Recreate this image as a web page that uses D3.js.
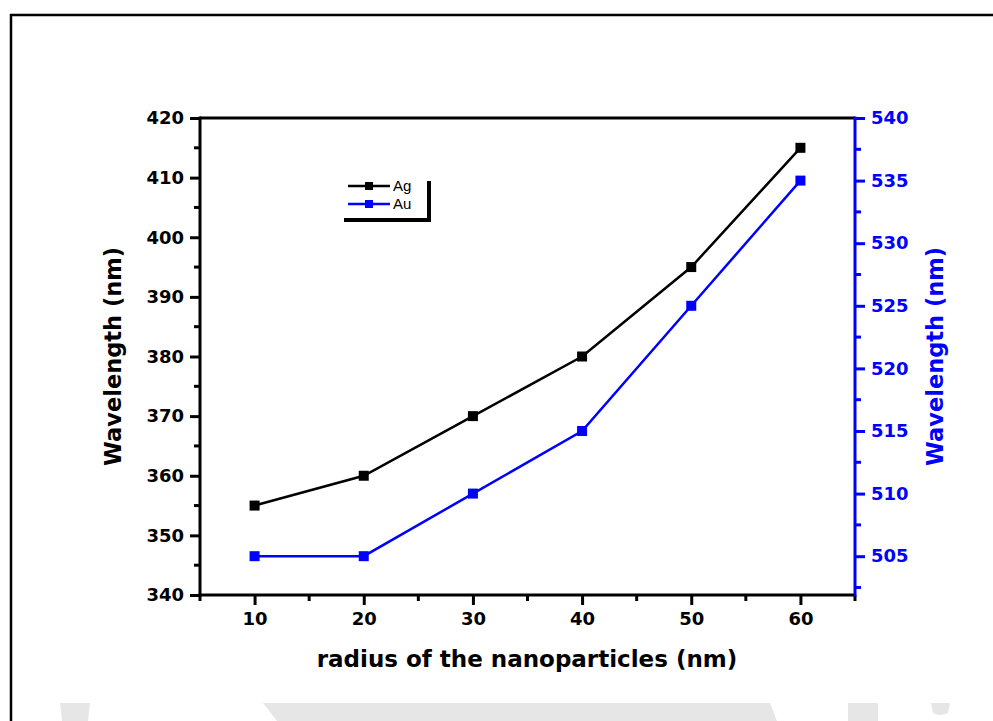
<!DOCTYPE html>
<html><head><meta charset="utf-8">
<script src="https://cdn.jsdelivr.net/npm/d3@7"></script>
<style>body{margin:0;background:#fff;}svg{display:block;font-family:"DejaVu Sans",Arial,sans-serif;}</style>
</head><body><svg id="c" width="993" height="721"></svg>
<script>
const radius = [10, 20, 30, 40, 50, 60];
const agValues = [355, 360, 370, 380, 395, 415];
const auValues = [505, 505, 510, 515, 525, 535];
const xTicks = [10, 20, 30, 40, 50, 60];
const yLeftTicks = [340, 350, 360, 370, 380, 390, 400, 410, 420];
const yRightTicks = [505, 510, 515, 520, 525, 530, 535, 540];
const seriesNames = ["Ag", "Au"];

const svg = d3.select("#c");
const L = 200, R = 855, T = 118, B = 595;
const blue = "#0000ff";

svg.append("rect").attr("x", 0).attr("y", 0).attr("width", 993).attr("height", 721).attr("fill", "#fff");
svg.append("path").attr("fill", "#e6e6e6")
  .attr("d", "M60,703 L90,703 L88,721 L62,721 Z M263,703 L770,703 L777,721 L277,721 Z M848,703 L878,703 L878,721 L848,721 Z M931,703 L950,703 L948,713 Q940,717 933,713 Z");
svg.append("line").attr("x1", 10).attr("x2", 993).attr("y1", 15).attr("y2", 15).attr("stroke", "#000").attr("stroke-width", 2.5);
svg.append("line").attr("x1", 11).attr("x2", 11).attr("y1", 14).attr("y2", 721).attr("stroke", "#000").attr("stroke-width", 2.5);

const x = d3.scaleLinear().domain([5, 65]).range([L, R]);
const yL = d3.scaleLinear().domain([340, 420]).range([B, T]);
const yR = d3.scaleLinear().domain([501.9, 540]).range([B, T]);

function styleAxis(g, color) {
  g.attr("font-family", "DejaVu Sans, Arial, sans-serif").attr("font-size", 18);
  g.select(".domain").remove();
  g.selectAll(".tick line").attr("stroke", color).attr("stroke-width", 3);
  g.selectAll(".tick text").attr("fill", color).attr("font-family", "DejaVu Sans, Arial, sans-serif")
    .attr("font-size", 18).attr("font-weight", "bold");
}

const minorX = d3.range(5, 66, 5).filter(v => v % 10 !== 0);
const minorL = d3.range(345, 420, 10);
const minorR = d3.range(502.5, 540, 5);

svg.append("g").selectAll("line").data(minorX).join("line")
  .attr("x1", d => x(d)).attr("x2", d => x(d)).attr("y1", B).attr("y2", B + 6)
  .attr("stroke", "#000").attr("stroke-width", 3);
svg.append("g").selectAll("line").data(minorL).join("line")
  .attr("x1", L).attr("x2", L - 6).attr("y1", d => yL(d)).attr("y2", d => yL(d))
  .attr("stroke", "#000").attr("stroke-width", 3);
svg.append("g").selectAll("line").data(minorR).join("line")
  .attr("x1", R).attr("x2", R + 6).attr("y1", d => yR(d)).attr("y2", d => yR(d))
  .attr("stroke", blue).attr("stroke-width", 3);

const gx = svg.append("g").attr("transform", `translate(0,${B})`)
  .call(d3.axisBottom(x).tickValues(xTicks).tickSize(10).tickPadding(7));
styleAxis(gx, "#000");
const gl = svg.append("g").attr("transform", `translate(${L},0)`)
  .call(d3.axisLeft(yL).tickValues(yLeftTicks).tickSize(10).tickPadding(6));
styleAxis(gl, "#000");
const gr = svg.append("g").attr("transform", `translate(${R},0)`)
  .call(d3.axisRight(yR).tickValues(yRightTicks).tickSize(10).tickPadding(6));
styleAxis(gr, blue);

svg.append("line").attr("x1", L).attr("x2", R).attr("y1", T).attr("y2", T).attr("stroke", "#000").attr("stroke-width", 3);
svg.append("line").attr("x1", L - 1.5).attr("x2", R).attr("y1", B).attr("y2", B).attr("stroke", "#000").attr("stroke-width", 3);
svg.append("line").attr("x1", L).attr("x2", L).attr("y1", T - 1.5).attr("y2", B + 1.5).attr("stroke", "#000").attr("stroke-width", 3);
svg.append("line").attr("x1", R).attr("x2", R).attr("y1", T - 1.5).attr("y2", B + 1.5).attr("stroke", blue).attr("stroke-width", 3);

const agData = radius.map((r, i) => [r, agValues[i]]);
const auData = radius.map((r, i) => [r, auValues[i]]);
svg.append("path").datum(agData).attr("fill", "none").attr("stroke", "#000").attr("stroke-width", 2.5)
  .attr("d", d3.line().x(d => x(d[0])).y(d => yL(d[1])));
svg.append("path").datum(auData).attr("fill", "none").attr("stroke", blue).attr("stroke-width", 2.5)
  .attr("d", d3.line().x(d => x(d[0])).y(d => yR(d[1])));
const ms = 10;
svg.append("g").selectAll("rect").data(agData).join("rect")
  .attr("x", d => x(d[0]) - ms / 2).attr("y", d => yL(d[1]) - ms / 2).attr("width", ms).attr("height", ms).attr("fill", "#000");
svg.append("g").selectAll("rect").data(auData).join("rect")
  .attr("x", d => x(d[0]) - ms / 2).attr("y", d => yR(d[1]) - ms / 2).attr("width", ms).attr("height", ms).attr("fill", blue);

svg.append("text").attr("transform", `translate(121,${(T + B) / 2}) rotate(-90)`).attr("text-anchor", "middle")
  .attr("font-size", 22.5).attr("font-weight", "bold").attr("fill", "#000").text("Wavelength (nm)");
svg.append("text").attr("transform", `translate(943,${(T + B) / 2}) rotate(-90)`).attr("text-anchor", "middle")
  .attr("font-size", 22.5).attr("font-weight", "bold").attr("fill", blue).text("Wavelength (nm)");
svg.append("text").attr("x", 527).attr("y", 667).attr("text-anchor", "middle")
  .attr("font-size", 23).attr("font-weight", "bold").attr("fill", "#000").text("radius of the nanoparticles (nm)");

const lg = svg.append("g");
lg.append("path").attr("d", "M344,220 L429,220 L429,181").attr("fill", "none").attr("stroke", "#000").attr("stroke-width", 4);
const colors = ["#000", blue];
seriesNames.forEach((n, i) => {
  const yy = 186 + i * 18;
  lg.append("line").attr("x1", 348).attr("x2", 390).attr("y1", yy).attr("y2", yy).attr("stroke", colors[i]).attr("stroke-width", 2.5);
  lg.append("rect").attr("x", 365).attr("y", yy - 4).attr("width", 8).attr("height", 8).attr("fill", colors[i]);
  lg.append("text").attr("x", 393).attr("y", yy + 5).attr("font-family", "Liberation Sans, Arial, sans-serif").attr("font-size", 15).attr("fill", "#000").text(n);
});
</script></body></html>
